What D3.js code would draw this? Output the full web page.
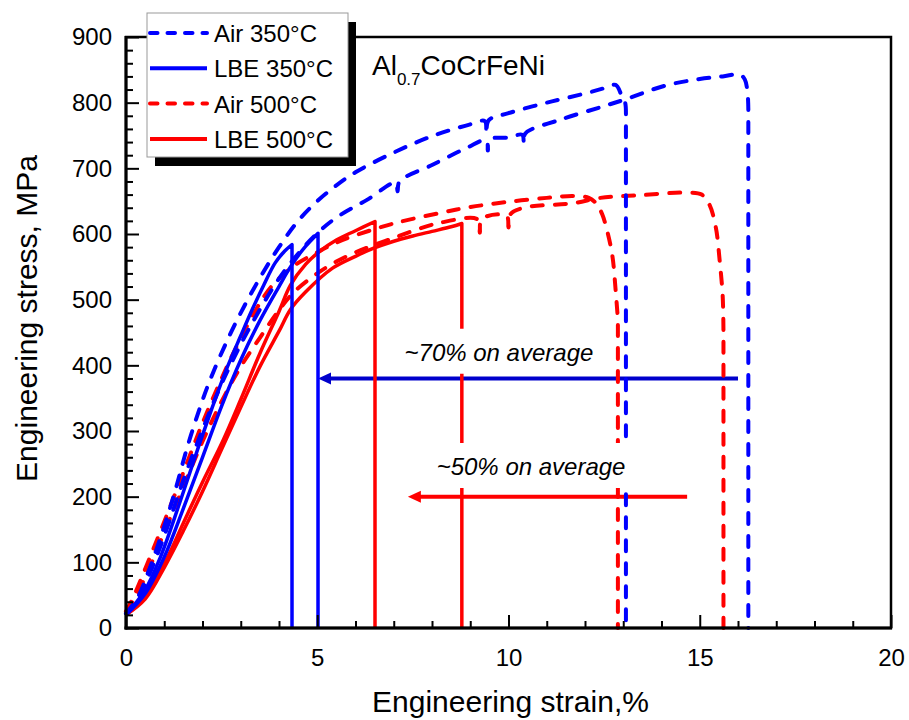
<!DOCTYPE html>
<html>
<head>
<meta charset="utf-8">
<script src="https://cdn.jsdelivr.net/npm/d3@7"></script>
<style>
body { margin: 0; background: #fff; }
text { font-family: Arial, "Liberation Sans", sans-serif; }
</style>
</head>
<body>
<script>
let width = 909;
let height = 720;

// [strain %, stress MPa]
const air350a = [[0,22],[0.3,46],[0.6,88],[1.0,155],[1.3,212],[1.6,275],[1.93,335],[2.2,378],[2.6,432],[3.0,480],[3.5,533],[4.0,580],[4.5,620],[5.0,650],[5.5,674],[6.0,694],[7.0,724],[8.0,749],[9.0,767],[9.38,772],[9.42,752],[9.48,773],[10.0,784],[11.0,800],[12.0,814],[12.5,822],[12.8,827],[12.95,812],[13.05,800],[13.07,780],[13.07,0]];
const air350b = [[0,22],[0.3,42],[0.6,80],[1.0,140],[1.5,225],[2.0,302],[2.5,372],[3.0,432],[3.5,485],[4.0,532],[4.5,570],[5.0,601],[5.5,625],[6.3,652],[7.05,678],[7.1,665],[7.15,680],[8.0,705],[8.9,731],[9.42,743],[9.46,727],[9.5,744],[10.0,747],[10.36,751],[10.4,737],[10.44,753],[11.35,774],[12.4,793],[13.0,804],[14.1,826],[15.0,836],[15.6,840],[16.05,843],[16.18,835],[16.25,815],[16.27,790],[16.27,0]];
const lbe350a = [[0,20],[0.5,58],[0.9,108],[1.4,190],[1.93,282],[2.3,343],[2.64,396],[3.0,445],[3.3,485],[3.6,522],[3.9,556],[4.15,574],[4.34,584],[4.34,0]];
const lbe350b = [[0,20],[0.5,52],[1.0,108],[1.5,182],[2.0,260],[2.5,338],[3.0,408],[3.5,468],[4.0,520],[4.3,550],[4.65,578],[5.02,601],[5.02,0]];
const air500a = [[0,25],[0.2,48],[0.6,104],[1.15,184],[1.5,237],[2.0,312],[2.5,380],[2.8,418],[3.4,485],[3.8,520],[4.4,552],[5.0,572],[5.5,587],[6.0,598],[7.0,616],[8.2,632],[9.0,641],[10.0,649],[11.0,655],[11.7,658],[12.1,655],[12.3,646],[12.45,630],[12.6,600],[12.72,565],[12.8,515],[12.86,470],[12.86,0]];
const air500b = [[0,25],[0.2,42],[0.6,90],[1.0,146],[1.5,215],[2.0,284],[2.5,345],[3.0,398],[3.5,442],[4.0,484],[4.4,512],[5.0,540],[5.5,558],[6.0,572],[7.0,594],[8.2,617],[9.2,622],[9.25,602],[9.3,623],[9.95,628],[10.0,610],[10.05,630],[10.4,640],[11.7,647],[12.4,655],[13.4,659],[14.7,663],[15.05,660],[15.25,645],[15.42,610],[15.52,560],[15.6,505],[15.62,450],[15.62,0]];
const lbe500a = [[0,20],[0.5,48],[1.07,106],[1.5,160],[2.0,222],[2.54,286],[3.0,348],[3.5,418],[4.0,482],[4.3,522],[4.7,554],[5.07,574],[5.5,591],[6.0,605],[6.51,619],[6.51,0]];
const lbe500b = [[0,20],[0.5,44],[1.0,92],[1.5,148],[2.0,208],[2.5,272],[3.0,336],[3.5,398],[4.0,452],[4.3,485],[4.7,512],[5.4,548],[6.0,566],[6.46,578],[7.0,589],[7.5,597],[8.0,604],[8.5,611],[8.78,616],[8.78,0]];

const legendLabels = ['Air 350°C', 'LBE 350°C', 'Air 500°C', 'LBE 500°C'];
const xTicks = [0, 5, 10, 15, 20];
const yTicks = [0, 100, 200, 300, 400, 500, 600, 700, 800, 900];

// annotations: [x from, x to, y] arrows and [x center, y baseline] labels
const blueArrow = [16.0, 5.02, 380];
const redArrow = [14.67, 7.37, 200];
const note70 = [9.75, 407, '~70% on average'];
const note50 = [10.59, 233, '~50% on average'];

const BLUE = '#0000ff', RED = '#ff0000';
const FONT = 'Arial, "Liberation Sans", sans-serif';

const svg = d3.select('body')
  .append('svg')
  .attr('width', width)
  .attr('height', height);

let x = d3.scaleLinear().domain([0, 20]).range([126, 891]);
let y = d3.scaleLinear().domain([0, 900]).range([628, 37]);

const line = d3.line()
  .x(d => x(d[0]))
  .y(d => y(d[1]))
  .curve(d3.curveCatmullRom.alpha(0.5));

// smooth part, then a straight drop to zero at fracture
function curvePath(data) {
  let last = data[data.length - 1];
  return line(data.slice(0, -1)) + 'L' + x(last[0]) + ',' + y(last[1]);
}

// arrows under the curves
function drawArrow(a, color) {
  let x0 = x(a[0]), x1 = x(a[1]), yy = y(a[2]);
  svg.append('line')
    .attr('x1', x0).attr('x2', x1 + 8)
    .attr('y1', yy).attr('y2', yy)
    .attr('stroke', color).attr('stroke-width', 4);
  svg.append('path')
    .attr('d', `M${x1},${yy} L${x1 + 13},${yy - 6} L${x1 + 13},${yy + 6} Z`)
    .attr('fill', color);
}
drawArrow(blueArrow, '#0000cc');
drawArrow(redArrow, RED);

const curves = [
  { data: air500a, color: RED, dash: true },
  { data: air500b, color: RED, dash: true },
  { data: lbe500a, color: RED, dash: false },
  { data: lbe500b, color: RED, dash: false },
  { data: air350a, color: BLUE, dash: true },
  { data: air350b, color: BLUE, dash: true },
  { data: lbe350a, color: BLUE, dash: false },
  { data: lbe350b, color: BLUE, dash: false }
];

svg.append('g').attr('id', 'curves')
  .selectAll('path').data(curves)
  .enter().append('path')
    .attr('d', d => curvePath(d.data))
    .attr('fill', 'none')
    .attr('stroke', d => d.color)
    .attr('stroke-width', d => d.dash ? 4 : 3.5)
    .attr('stroke-linecap', d => d.dash ? 'round' : 'butt')
    .attr('stroke-linejoin', 'round')
    .attr('stroke-dasharray', d => d.dash ? '11,12' : null);

// notes with white box
function drawNote(n) {
  let g = svg.append('g');
  let t = g.append('text')
    .attr('x', x(n[0])).attr('y', y(n[1]))
    .attr('text-anchor', 'middle')
    .attr('font-size', 24)
    .attr('font-style', 'italic')
    .text(n[2]);
  let b = t.node().getBBox();
  g.insert('rect', 'text')
    .attr('x', b.x - 8).attr('y', b.y - 10)
    .attr('width', b.width + 16).attr('height', b.height + 18)
    .attr('fill', '#fff');
}
drawNote(note70);
drawNote(note50);

// axes, ticks inward
const yMinor = d3.range(0, 901, 20).filter(v => v % 100 !== 0);
const xMinor = d3.range(0, 21, 1).filter(v => v % 5 !== 0);

let gY = svg.append('g')
  .attr('transform', `translate(${x(0)},0)`)
  .call(d3.axisLeft(y).tickValues(yTicks).tickSize(-13).tickPadding(14));
let gYm = svg.append('g')
  .attr('transform', `translate(${x(0)},0)`)
  .call(d3.axisLeft(y).tickValues(yMinor).tickSize(-7).tickFormat(''));

let gX = svg.append('g')
  .attr('transform', `translate(0,${y(0)})`)
  .call(d3.axisBottom(x).tickValues(xTicks).tickSize(-13).tickPadding(21));
let gXm = svg.append('g')
  .attr('transform', `translate(0,${y(0)})`)
  .call(d3.axisBottom(x).tickValues(xMinor).tickSize(-7).tickFormat(''));

[gY, gYm, gX, gXm].forEach(g => {
  g.attr('font-size', 24).attr('font-family', FONT);
  g.select('.domain').remove();
  g.selectAll('line').attr('stroke', '#000').attr('stroke-width', 2);
  g.selectAll('text').attr('fill', '#000');
});

// frame
svg.append('rect')
  .attr('x', x(0)).attr('y', y(900))
  .attr('width', x(20) - x(0)).attr('height', y(0) - y(900))
  .attr('fill', 'none').attr('stroke', '#000').attr('stroke-width', 2.5);
svg.append('line')
  .attr('x1', x(0)).attr('x2', x(0)).attr('y1', y(900) - 1).attr('y2', y(0) + 1.5)
  .attr('stroke', '#000').attr('stroke-width', 3);
svg.append('line')
  .attr('x1', x(0) - 1.5).attr('x2', x(20) + 1).attr('y1', y(0)).attr('y2', y(0))
  .attr('stroke', '#000').attr('stroke-width', 3);

// axis titles
svg.append('text')
  .attr('x', (x(0) + x(20)) / 2 + 2).attr('y', 712)
  .attr('text-anchor', 'middle')
  .attr('font-size', 30)
  .text('Engineering strain,%');
svg.append('text')
  .attr('transform', `translate(37,${(y(0) + y(900)) / 2 - 14}) rotate(-90)`)
  .attr('text-anchor', 'middle')
  .attr('font-size', 30)
  .text('Engineering stress, MPa');

// alloy name
let title = svg.append('text')
  .attr('x', 372).attr('y', 75)
  .attr('font-size', 28);
title.append('tspan').text('Al');
title.append('tspan').attr('font-size', 17).attr('dy', 10).text('0.7');
title.append('tspan').attr('dy', -10).text('CoCrFeNi');

// legend
let lg = svg.append('g');
lg.append('rect')
  .attr('x', 155).attr('y', 22).attr('width', 201).attr('height', 144)
  .attr('fill', '#000');
lg.append('rect')
  .attr('x', 147).attr('y', 13).attr('width', 201).attr('height', 144)
  .attr('fill', '#fff').attr('stroke', '#999').attr('stroke-width', 1);

const legendStyle = [curves[4], curves[6], curves[0], curves[2]];
legendLabels.forEach((lab, i) => {
  let yy = 33 + i * 35.3;
  let s = legendStyle[i];
  lg.append('line')
    .attr('x1', 150).attr('x2', 207)
    .attr('y1', yy).attr('y2', yy)
    .attr('stroke', s.color)
    .attr('stroke-width', 4)
    .attr('stroke-linecap', s.dash ? 'round' : 'butt')
    .attr('stroke-dasharray', s.dash ? '7.5,10' : null);
  lg.append('text')
    .attr('x', 214).attr('y', yy + 9)
    .attr('font-size', 24)
    .text(lab);
});
</script>
</body>
</html>
